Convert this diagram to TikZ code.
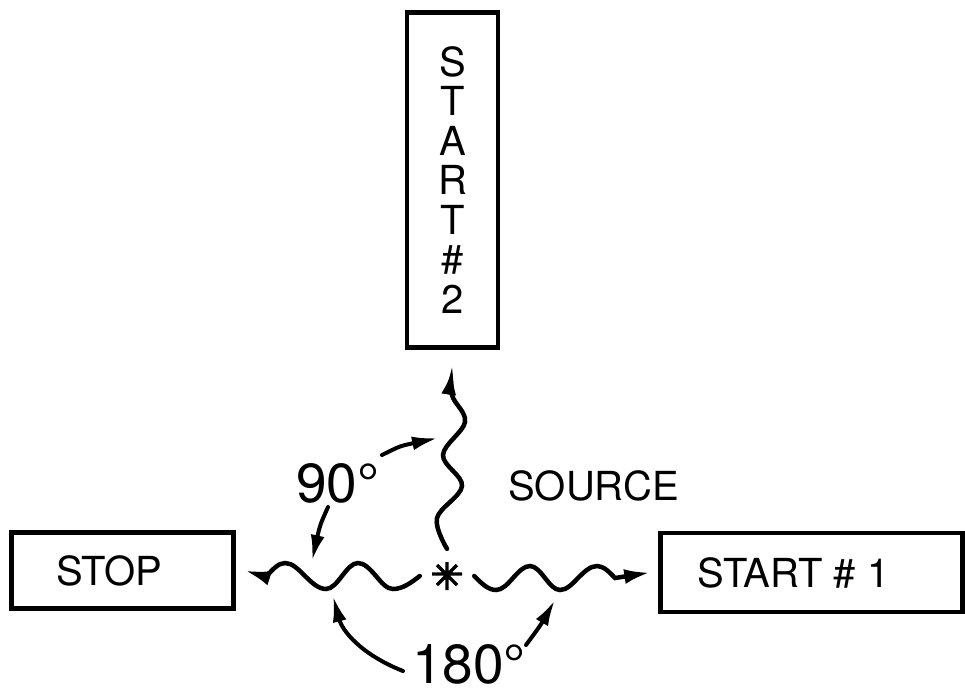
\documentclass[tikz,border=0pt]{standalone}
\usepackage{fontspec}
\setmainfont{TeX Gyre Heros}
\usetikzlibrary{arrows.meta}
\begin{document}
\begin{tikzpicture}[x=1pt,y=-1pt,
  box/.style={draw,line width=4.5pt,inner sep=0pt},
  txt/.style={font=\fontsize{40}{39.5}\selectfont},
  deg/.style={font=\fontsize{55}{60}\selectfont,inner sep=0pt},
  wave/.style={line width=4.5pt,line cap=round,-{Latex[length=26pt,width=15pt]}},
  pointer/.style={line width=4pt,line cap=round,-{Latex[length=26pt,width=14pt]}}]
\useasboundingbox[fill=white] (0,0) rectangle (965,696);

% boxes
\node[box,txt,minimum width=91pt,minimum height=335pt,align=center] (s2) at (452.5,180) {S\\T\\A\\R\\T\\\#\\2};
\node[box,txt,minimum width=222pt,minimum height=76pt] (stop) at (122.5,570.5) {\hspace*{-26pt}STOP};
\node[box,txt,minimum width=302pt,minimum height=79pt] (s1) at (811.5,572.5) {\hspace*{-36pt}START \# 1};

% source
\node[circle,minimum size=54pt,inner sep=0pt] (src) at (447,576) {};
\draw[line width=3.4pt] (src.center) ++(-15,-2) -- ++(30,0)
  (src.center) ++(0,-14) -- ++(0,28)
  (src.center) ++(-10,-11) -- ++(20,20)
  (src.center) ++(10,-11) -- ++(-20,20);
\node[txt,anchor=base west,inner sep=0pt] (lsrc) at (508,500) {SOURCE};

% waves
\coordinate (stopin) at ([xshift=9pt]stop.east);
\coordinate (s1in) at ([xshift=-8pt]s1.west);
\coordinate (s2in) at ([yshift=-19pt]s2.south);
\draw[wave] (src.west) sin (393,589) cos (376,576) sin (358,563) cos (342,576)
  sin (326,589) cos (305,576) sin (285,563) cos (266,577) -- (stopin);
\draw[wave] (src.east) sin (496,590) cos (513,578) sin (530,566) cos (545,578)
  sin (560,590) cos (578,578) sin (597,566) cos (615,578) -- (s1in);
\draw[wave] plot[smooth,tension=0.6] coordinates {(src.north) (437,518) (462,486) (443,455) (465,422) (452,395) (s2in)};

% angle labels
\node[deg,anchor=base west] (l90) at (296,502) {90°};
\node[deg,anchor=base west] (l180) at (412,683) {180°};

\coordinate (a1s) at (382,455); \coordinate (a1e) at (438,438);
\coordinate (a2s) at (328,507); \coordinate (a2e) at (312,561);
\coordinate (a3s) at (403,671); \coordinate (a3e) at (333,596);
\coordinate (a4s) at (526,645); \coordinate (a4e) at (555,600);
\draw[pointer] (a1s) .. controls (400,446) .. (a1e);
\draw[pointer] (a2s) .. controls (320,525) .. (a2e);
\draw[pointer] (a3s) .. controls (360,654) and (342,630) .. (a3e);
\draw[pointer] (a4s) .. controls (540,626) .. (a4e);
\end{tikzpicture}
\end{document}
